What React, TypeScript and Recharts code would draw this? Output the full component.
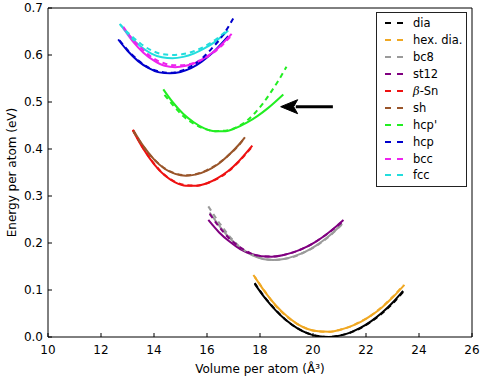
import { LineChart, Line, XAxis, YAxis, ReferenceLine, ReferenceDot, Label } from "recharts";

const FONT = "DejaVu Sans, sans-serif";

const xTicks = [10, 12, 14, 16, 18, 20, 22, 24, 26];
const yTicks = [0, 0.1, 0.2, 0.3, 0.4, 0.5, 0.6, 0.7];

const labels = ["dia", "hex. dia.", "bc8", "st12", "β-Sn", "sh", "hcp'", "hcp", "bcc", "fcc"];
const colors = ["#000000", "#f0a823", "#9a9a9a", "#800080", "#ee1111", "#99552a", "#22ee22", "#0000cc", "#ee22ee", "#22dddd"];

// [volume, energy]; solid and dashed curve per structure
const diaSolid = [[17.8, 0.113], [18.2, 0.082], [18.6, 0.056], [19.0, 0.035], [19.4, 0.019], [19.8, 0.0076], [20.2, 0.0014], [20.6, 0.0001], [21.0, 0.0029], [21.4, 0.0094], [21.8, 0.0197], [22.2, 0.0337], [22.6, 0.0514], [23.0, 0.0728], [23.4, 0.098]];
const diaDashed = [[17.8, 0.115], [18.2, 0.083], [18.6, 0.057], [19.0, 0.035], [19.4, 0.019], [19.8, 0.008], [20.2, 0.002], [20.6, 0.0], [21.0, 0.003], [21.4, 0.009], [21.8, 0.019], [22.2, 0.033], [22.6, 0.05], [23.0, 0.071], [23.4, 0.096]];
const hexSolid = [[17.8, 0.128], [18.2, 0.095], [18.6, 0.067], [19.0, 0.045], [19.4, 0.028], [19.8, 0.017], [20.2, 0.012], [20.6, 0.011], [21.0, 0.015], [21.4, 0.022], [21.8, 0.032], [22.2, 0.046], [22.6, 0.063], [23.0, 0.084], [23.45, 0.111]];
const hexDashed = [[17.75, 0.132], [18.2, 0.096], [18.6, 0.066], [19.0, 0.044], [19.4, 0.028], [19.8, 0.017], [20.2, 0.012], [20.6, 0.011], [21.0, 0.015], [21.4, 0.022], [21.8, 0.033], [22.2, 0.046], [22.6, 0.064], [23.0, 0.085], [23.4, 0.11]];
const bc8Solid = [[16.1, 0.265], [16.5, 0.234], [16.9, 0.208], [17.3, 0.188], [17.7, 0.174], [18.1, 0.166], [18.5, 0.164], [18.9, 0.166], [19.3, 0.172], [19.7, 0.181], [20.1, 0.194], [20.5, 0.21], [20.9, 0.23], [21.1, 0.241]];
const bc8Dashed = [[16.05, 0.278], [16.5, 0.24], [16.9, 0.211], [17.3, 0.189], [17.7, 0.175], [18.1, 0.167], [18.5, 0.164], [18.9, 0.166], [19.3, 0.171], [19.7, 0.181], [20.1, 0.193], [20.5, 0.209], [20.9, 0.229], [21.1, 0.24]];
const st12Solid = [[16.05, 0.249], [16.45, 0.223], [16.85, 0.203], [17.25, 0.187], [17.65, 0.177], [18.05, 0.172], [18.45, 0.171], [18.85, 0.174], [19.25, 0.18], [19.65, 0.189], [20.05, 0.201], [20.45, 0.216], [20.85, 0.234], [21.15, 0.249]];
const st12Dashed = [[16.1, 0.262], [16.45, 0.235], [16.85, 0.209], [17.25, 0.191], [17.65, 0.178], [18.05, 0.172], [18.45, 0.171], [18.85, 0.174], [19.25, 0.18], [19.65, 0.189], [20.05, 0.201], [20.45, 0.216], [20.85, 0.233], [21.15, 0.247]];
const snSolid = [[13.2, 0.44], [13.6, 0.4], [14.0, 0.368], [14.4, 0.344], [14.8, 0.329], [15.2, 0.322], [15.6, 0.322], [16.0, 0.327], [16.4, 0.338], [16.8, 0.353], [17.2, 0.374], [17.71, 0.407]];
const snDashed = [[13.2, 0.441], [13.6, 0.401], [14.0, 0.369], [14.4, 0.345], [14.8, 0.33], [15.2, 0.323], [15.6, 0.322], [16.0, 0.327], [16.4, 0.337], [16.8, 0.352], [17.2, 0.373], [17.7, 0.405]];
const shSolid = [[13.22, 0.44], [13.6, 0.406], [14.0, 0.378], [14.4, 0.358], [14.8, 0.347], [15.2, 0.343], [15.6, 0.346], [16.0, 0.354], [16.4, 0.367], [16.8, 0.386], [17.2, 0.409], [17.43, 0.425]];
const shDashed = [[13.22, 0.438], [13.6, 0.405], [14.0, 0.378], [14.4, 0.359], [14.8, 0.348], [15.2, 0.344], [15.6, 0.347], [16.0, 0.355], [16.4, 0.368], [16.8, 0.386], [17.2, 0.408], [17.4, 0.422]];
const hcpPSolid = [[14.35, 0.527], [14.7, 0.5], [15.1, 0.475], [15.5, 0.457], [15.9, 0.444], [16.3, 0.438], [16.7, 0.438], [17.1, 0.445], [17.5, 0.456], [17.9, 0.47], [18.3, 0.487], [18.88, 0.516]];
const hcpPDashed = [[14.4, 0.515], [14.8, 0.488], [15.1, 0.47], [15.5, 0.454], [15.9, 0.443], [16.3, 0.438], [16.7, 0.439], [17.1, 0.446], [17.5, 0.46], [17.8, 0.476], [18.1, 0.496], [18.4, 0.52], [18.7, 0.546], [19.0, 0.575]];
const hcpSolid = [[12.65, 0.633], [13.0, 0.609], [13.4, 0.587], [13.8, 0.572], [14.2, 0.563], [14.6, 0.561], [15.0, 0.564], [15.4, 0.572], [15.8, 0.586], [16.2, 0.604], [16.8, 0.64]];
const hcpDashed = [[12.7, 0.631], [13.0, 0.611], [13.4, 0.589], [13.8, 0.573], [14.2, 0.565], [14.6, 0.562], [15.0, 0.566], [15.4, 0.576], [15.8, 0.592], [16.2, 0.615], [16.6, 0.642], [17.06, 0.685]];
const bccSolid = [[12.84, 0.657], [13.2, 0.629], [13.6, 0.605], [14.0, 0.588], [14.4, 0.577], [14.8, 0.574], [15.2, 0.577], [15.6, 0.584], [16.0, 0.597], [16.4, 0.614], [16.93, 0.645]];
const bccDashed = [[12.84, 0.66], [13.2, 0.633], [13.6, 0.61], [14.0, 0.592], [14.4, 0.582], [14.8, 0.578], [15.2, 0.579], [15.6, 0.585], [16.0, 0.596], [16.4, 0.612], [16.9, 0.64]];
const fccSolid = [[12.74, 0.664], [13.1, 0.639], [13.5, 0.618], [13.9, 0.603], [14.3, 0.595], [14.7, 0.593], [15.1, 0.596], [15.5, 0.603], [15.9, 0.614], [16.3, 0.628], [16.8, 0.652]];
const fccDashed = [[12.7, 0.666], [13.1, 0.643], [13.5, 0.624], [13.9, 0.61], [14.3, 0.602], [14.7, 0.6], [15.1, 0.602], [15.5, 0.608], [15.9, 0.618], [16.3, 0.632], [16.75, 0.652]];

const solids = [diaSolid, hexSolid, bc8Solid, st12Solid, snSolid, shSolid, hcpPSolid, hcpSolid, bccSolid, fccSolid];
const dashes = [diaDashed, hexDashed, bc8Dashed, st12Dashed, snDashed, shDashed, hcpPDashed, hcpDashed, bccDashed, fccDashed];

// arrow pointing at hcp'
const arrowFrom = { x: 20.75, y: 0.49 };
const arrowTip = { x: 18.78, y: 0.49 };

const toRows = (pts: number[][]) => pts.map(([v, e]) => ({ v, e }));

const ArrowHead = (props: any) => {
  const { cx, cy } = props;
  return <path d={`M${cx},${cy} L${cx + 17},${cy - 7} L${cx + 13},${cy} L${cx + 17},${cy + 7} Z`} fill="#000" stroke="#000" strokeWidth={1} />;
};

const LegendBox = () => (
  <div
    style={{
      position: "absolute",
      left: 376,
      top: 12,
      width: 91,
      height: 175,
      border: "1px solid #222",
      background: "#fff",
      boxSizing: "border-box",
      paddingTop: 2,
      fontFamily: FONT,
      fontSize: 11.5,
    }}
  >
    {labels.map((name, i) => (
      <div key={name} style={{ height: 16.9, display: "flex", alignItems: "center" }}>
        <svg width={36} height={10} style={{ flexShrink: 0 }}>
          <line x1={8} y1={5} x2={26} y2={5} stroke={colors[i]} strokeWidth={2} strokeDasharray="6 6" />
        </svg>
        <span style={{ whiteSpace: "nowrap" }}>
          {name === "β-Sn" ? (
            <>
              <i style={{ fontFamily: "DejaVu Serif, serif" }}>β</i>-Sn
            </>
          ) : (
            name
          )}
        </span>
      </div>
    ))}
  </div>
);

export default function App() {
  const tickStyle = { fill: "#000", fontSize: 12, fontFamily: FONT };
  return (
    <div style={{ position: "absolute", left: 0, top: 0, width: 482, height: 380, background: "#fff" }}>
      <LineChart width={482} height={380} margin={{ top: 0, right: 0, bottom: 0, left: 0 }}>
        <XAxis
          type="number"
          dataKey="v"
          domain={[10, 26]}
          ticks={xTicks}
          allowDataOverflow
          height={43}
          stroke="#000"
          tickSize={-4}
          tickMargin={12}
          tick={tickStyle}
        >
          <Label value="Volume per atom (Å³)" position="center" dy={10} style={{ fill: "#000", fontSize: 12, fontFamily: FONT }} />
        </XAxis>
        <XAxis
          xAxisId="top"
          orientation="top"
          type="number"
          domain={[10, 26]}
          ticks={xTicks}
          allowDataOverflow
          height={8}
          stroke="#000"
          tickSize={-4}
          tick={false}
        />
        <YAxis
          type="number"
          domain={[0, 0.7]}
          ticks={yTicks}
          allowDataOverflow
          width={48}
          stroke="#000"
          tickSize={-4}
          tickMargin={9}
          tick={tickStyle}
          tickFormatter={(t: number) => t.toFixed(1)}
        >
          <Label value="Energy per atom (eV)" angle={-90} position="center" dx={-12} style={{ fill: "#000", fontSize: 12, fontFamily: FONT }} />
        </YAxis>
        <YAxis
          yAxisId="right"
          orientation="right"
          type="number"
          domain={[0, 0.7]}
          ticks={yTicks}
          allowDataOverflow
          width={10}
          stroke="#000"
          tickSize={-4}
          tick={false}
        />
        {solids.map((pts, i) => (
          <Line
            key={"s" + i}
            data={toRows(pts)}
            dataKey="e"
            type="monotone"
            stroke={colors[i]}
            strokeWidth={2}
            dot={false}
            isAnimationActive={false}
          />
        ))}
        {dashes.map((pts, i) => (
          <Line
            key={"d" + i}
            data={toRows(pts)}
            dataKey="e"
            type="monotone"
            stroke={colors[i]}
            strokeWidth={2}
            strokeDasharray="5 4"
            dot={false}
            isAnimationActive={false}
          />
        ))}
        <ReferenceLine segment={[arrowFrom, { x: 19.35, y: arrowTip.y }]} stroke="#000" strokeWidth={3} />
        <ReferenceDot x={arrowTip.x} y={arrowTip.y} r={1} shape={ArrowHead} />
      </LineChart>
      <LegendBox />
    </div>
  );
}
